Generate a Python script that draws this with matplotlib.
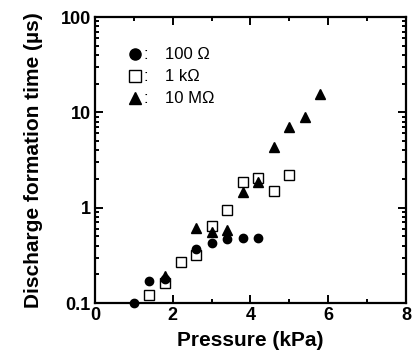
import matplotlib
matplotlib.use('Agg')
import matplotlib.pyplot as plt
from matplotlib.ticker import LogLocator, FixedLocator, MultipleLocator, FixedFormatter

plt.rcParams['font.family'] = ['Liberation Sans', 'DejaVu Sans']

# 100 ohm
p_100 = [1.0, 1.4, 1.8, 2.6, 3.0, 3.4, 3.8, 4.2]
t_100 = [0.10, 0.169, 0.18, 0.37, 0.43, 0.47, 0.48, 0.48]
# 1 kohm
p_1k = [1.4, 1.8, 2.2, 2.6, 3.0, 3.4, 3.8, 4.2, 4.6, 5.0]
t_1k = [0.122, 0.162, 0.27, 0.316, 0.65, 0.95, 1.86, 2.05, 1.48, 2.22]
# 10 Mohm
p_10M = [1.8, 2.6, 3.0, 3.4, 3.8, 4.2, 4.6, 5.0, 5.4, 5.8]
t_10M = [0.19, 0.61, 0.555, 0.59, 1.46, 1.84, 4.3, 7.1, 8.9, 15.6]

legend_labels = ['100 \u03a9', '1 k\u03a9', '10 M\u03a9']
x_ticks = [0, 2, 4, 6, 8]
y_ticks = [0.1, 1, 10, 100]
y_ticklabels = ['0.1', '1', '10', '100']

fig = plt.figure(figsize=(4.14, 3.59), dpi=100)
ax = fig.add_axes([95 / 414, 1 - 303 / 359, 311 / 414, 286 / 359])

ax.plot(p_100, t_100, 'o', color='black', ms=6, zorder=3, clip_on=False)
ax.plot(p_1k, t_1k, 's', mfc='white', mec='black', mew=1.0, ms=7, zorder=2, clip_on=False)
ax.plot(p_10M, t_10M, '^', color='black', ms=6.5, zorder=4, clip_on=False)

ax.set_yscale('log')
ax.set_xlim(0, 8)
ax.set_ylim(0.1, 100)

ax.xaxis.set_major_locator(FixedLocator(x_ticks))
ax.xaxis.set_minor_locator(MultipleLocator(1))
ax.yaxis.set_major_locator(FixedLocator(y_ticks))
ax.yaxis.set_major_formatter(FixedFormatter(y_ticklabels))
ax.yaxis.set_minor_locator(LogLocator(base=10, subs=range(2, 10)))
ax.yaxis.set_minor_formatter(plt.NullFormatter())

for s in ax.spines.values():
    s.set_linewidth(1.6)
ax.tick_params(which='both', direction='in', top=True, right=True, width=1.4)
ax.tick_params(which='major', length=6, labelsize=13, pad=3)
ax.tick_params(which='minor', length=3)
for lab in ax.get_xticklabels() + ax.get_yticklabels():
    lab.set_fontweight('bold')

ax.set_xlabel('Pressure (kPa)', fontsize=15, fontweight='bold', labelpad=5)
ax.set_ylabel('Discharge formation time (\u00b5s)', fontsize=15, fontweight='bold', labelpad=13)

# hand-made legend
markers = [dict(marker='o', color='black', ms=8),
           dict(marker='s', mfc='white', mec='black', mew=1.0, ms=8),
           dict(marker='^', color='black', ms=8)]
for i, (lab, mk) in enumerate(zip(legend_labels, markers)):
    yy = 0.87 - i * 0.077
    ax.plot([0.128], [yy], transform=ax.transAxes, linestyle='none', clip_on=False, **mk)
    ax.text(0.155, yy, ':', transform=ax.transAxes, fontsize=12, va='center', ha='left')
    ax.text(0.225, yy, lab, transform=ax.transAxes, fontsize=12, va='center', ha='left')

fig.savefig('out.png', dpi=100)
